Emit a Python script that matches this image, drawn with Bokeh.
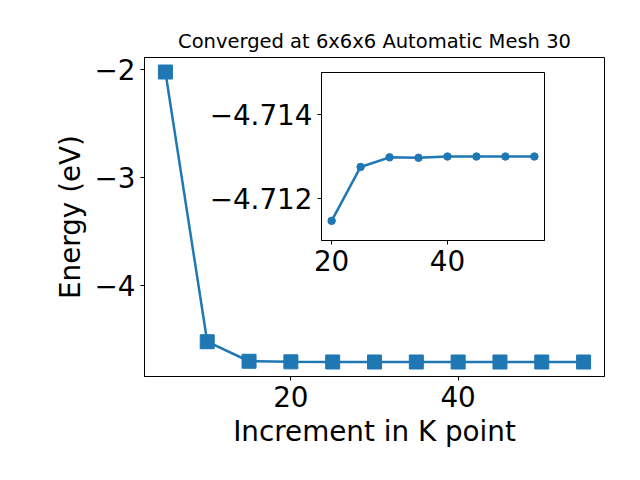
from bokeh.plotting import figure
from bokeh.layouts import column
from bokeh.models import FixedTicker, CustomJSTickFormatter, Range1d
from bokeh.embed import file_html
from bokeh.resources import INLINE

# ---- data ----
kpoints = [5, 10, 15, 20, 25, 30, 35, 40, 45, 50, 55]
energy = [-2.022, -4.525, -4.706, -4.71146, -4.71275, -4.71298, -4.71297,
          -4.71300, -4.71300, -4.71300, -4.71300]
inset_kpoints = [20, 25, 30, 35, 40, 45, 50, 55]
inset_energy = [-4.71146, -4.71275, -4.71298, -4.71297, -4.71300, -4.71300,
                -4.71300, -4.71300]
main_xticks = [20, 40]
main_yticks = [-4, -3, -2]
inset_xticks = [20, 40]
inset_yticks = [-4.714, -4.712]
title_text = "Converged at 6x6x6 Automatic Mesh 30"
xlabel = "Increment in K point"
ylabel = "Energy (eV)"

BLUE = "#1f77b4"
FONT = "DejaVu Sans"
TICK_PX = "27.8px"
LABEL_PX = "27.8px"


def fmt(digits):
    return CustomJSTickFormatter(code="""
        const s = Math.abs(tick).toFixed(%d);
        return (tick < 0 ? "\\u2212" : "") + s;
    """ % digits)


def style_axes(fig, xdigits, ydigits):
    for ax, d in ((fig.xaxis[0], xdigits), (fig.yaxis[0], ydigits)):
        ax.axis_line_color = "black"
        ax.major_tick_line_color = "black"
        ax.major_tick_out = 4
        ax.major_tick_in = 0
        ax.minor_tick_line_color = None
        ax.major_label_text_font = FONT
        ax.major_label_text_font_size = TICK_PX
        ax.major_label_text_color = "black"
        ax.axis_label_text_font = FONT
        ax.axis_label_text_font_style = "normal"
        ax.axis_label_text_color = "black"
        ax.axis_label_text_font_size = LABEL_PX
        ax.formatter = fmt(d)
    fig.xgrid.visible = False
    fig.ygrid.visible = False
    fig.outline_line_color = "black"
    fig.outline_line_alpha = 1
    fig.outline_line_width = 1


# ---- main figure ----
p = figure(frame_width=460, frame_height=319,
           min_border_left=144, min_border_right=36,
           min_border_top=57, min_border_bottom=104,
           output_backend="svg", toolbar_location=None,
           title=title_text)
p.title.align = "center"
p.title.text_font = FONT
p.title.text_font_size = "19.5px"
p.title.text_font_style = "normal"
p.title.text_color = "black"

p.line(kpoints, energy, line_color=BLUE, line_width=2.5)
p.scatter(kpoints, energy, marker="square", size=14, fill_color=BLUE,
          line_color=BLUE)
style_axes(p, 0, 0)
p.xaxis.ticker = FixedTicker(ticks=main_xticks)
p.yaxis.ticker = FixedTicker(ticks=main_yticks)
p.xaxis.axis_label = xlabel
p.yaxis.axis_label = ylabel

# ---- inset figure ----
ins = figure(frame_width=223, frame_height=168,
             min_border_left=140, min_border_right=8,
             min_border_top=5, min_border_bottom=45,
             x_range=Range1d(18.25, 56.75),
             y_range=Range1d(-4.71099, -4.71501),
             output_backend="svg", toolbar_location=None)
ins.border_fill_alpha = 0
ins.background_fill_color = "white"
ins.line(inset_kpoints, inset_energy, line_color=BLUE, line_width=2.5)
ins.scatter(inset_kpoints, inset_energy, marker="circle", size=7.5,
            fill_color=BLUE, line_color=BLUE)
style_axes(ins, 0, 3)
ins.xaxis.ticker = FixedTicker(ticks=inset_xticks)
ins.yaxis.ticker = FixedTicker(ticks=inset_yticks)
ins.margin = (-413, 0, 0, 177)

layout = column(p, ins)
open("out.html", "w").write(file_html(layout, INLINE))
